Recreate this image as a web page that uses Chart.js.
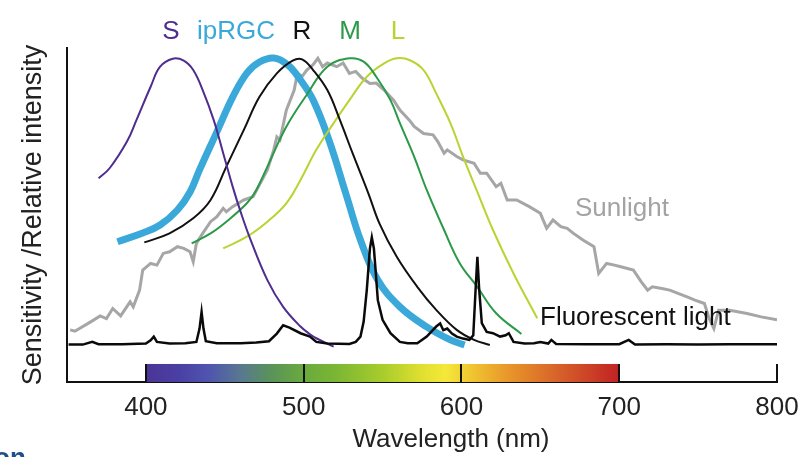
<!DOCTYPE html>
<html>
<head>
<meta charset="utf-8">
<script src="https://cdn.jsdelivr.net/npm/chart.js@4.4.1/dist/chart.umd.min.js"></script>
<style>
  body { margin: 0; background: #fff; }
  canvas { display: block; }
</style>
</head>
<body>
<canvas id="spectra-chart" width="809" height="457"></canvas>
<script>
const spectraChart = document.querySelector("#spectra-chart");

const xTicks = [400, 500, 600, 700, 800];

// receptor sensitivity curves, wavelength (nm) and relative value
const sWave = [370, 377, 388, 394, 403, 409, 417, 424, 430, 436, 443, 449, 455, 460, 466, 477, 487, 498, 504, 508, 519];
const sValues = [61, 64, 72, 78.4, 88.4, 94.4, 96.8, 96.2, 93.4, 87.4, 78.4, 68.5, 58.5, 51, 43, 30.5, 22.5, 16.6, 14.3, 13.1, 10.6];

const ipWave = [382, 398, 409, 420, 428, 434, 445, 455, 464, 472, 481, 490, 498, 506, 516, 527, 536, 547, 561, 578, 593, 602];
const ipValues = [42, 44.6, 47, 51.5, 56.9, 63.5, 74.9, 85.3, 92.5, 95.8, 97, 94.9, 90.4, 84.4, 72.5, 56, 42.5, 30.5, 22.5, 16.5, 12.6, 11.1];

const rWave = [399, 415, 430, 441, 451, 462, 472, 483, 493, 499, 506, 515, 523, 531, 541, 548, 559, 572, 584, 597, 608, 618];
const rValues = [41.8, 44.5, 49, 54.5, 64.5, 75.4, 85.4, 92.4, 96.2, 96.6, 93.4, 87.4, 78.4, 68.5, 56.5, 47.5, 37.5, 28.5, 21.6, 15.6, 12.6, 11.1];

const mWave = [429, 441, 451, 464, 470, 477, 489, 502, 515, 529, 538, 546, 555, 561, 570, 578, 589, 599, 610, 622, 638];
const mValues = [41.5, 44.5, 48, 53.5, 57.5, 64.5, 76.4, 86, 94.4, 96.9, 95.9, 91.4, 84.4, 77.5, 67.5, 57.5, 45.5, 35.5, 28.5, 20.6, 14.4];

const lWave = [449, 464, 477, 489, 498, 508, 519, 529, 540, 551, 559, 567, 576, 584, 593, 601, 610, 620, 633, 648];
const lValues = [40, 43.5, 48, 53.5, 60.5, 69.5, 77.5, 84.4, 91.4, 95.4, 96.9, 96.4, 93.4, 86.4, 77.5, 67.5, 57, 45.5, 32.5, 19.1];

// light sources
const sunWave = [352, 355, 365, 371, 375, 379, 384, 390, 392, 396, 398, 403, 407, 411, 415, 420, 424, 428, 430, 432, 436, 441, 445, 449, 451, 455, 462, 468, 477, 481, 483, 485, 489, 494, 496, 499, 502, 506, 509, 512, 515, 521, 525, 529, 533, 537, 542, 546, 551, 557, 561, 567, 570, 576, 582, 585, 589, 591, 597, 601, 608, 612, 616, 622, 625, 629, 635, 643, 650, 654, 658, 663, 667, 671, 677, 684, 687, 692, 697, 701, 709, 714, 718, 721, 727, 732, 743, 748, 754, 757, 760, 763, 770, 781, 790, 800];
const sunValues = [15.6, 15.2, 18, 19.8, 19, 22, 19.8, 24, 22.5, 27.5, 33.5, 35.5, 35, 38.5, 39, 40.5, 40, 39, 36, 41.5, 44.5, 48, 49.5, 52, 51, 52.5, 54.5, 55.5, 63.5, 69.5, 73.4, 72.5, 81.4, 87.4, 92.4, 91.5, 93.4, 95, 96.9, 94.4, 95.5, 94.4, 95.5, 92.4, 93, 91, 89.4, 89.5, 87.4, 84.4, 81.4, 78.4, 76.5, 74.4, 74, 72, 68.5, 69.5, 67.5, 66.5, 65.5, 62.5, 62.5, 58.5, 59.5, 54.5, 54.5, 52.5, 50.5, 46, 48.5, 46.5, 46, 44.5, 42.5, 40.5, 32.5, 35.5, 35, 34.5, 33.5, 30, 27.5, 28.5, 28, 27.5, 25.5, 24.5, 23.5, 19, 16, 21.5, 21.5, 20.5, 19.5, 18.6];

const fluoWave = [351, 360, 366, 370, 385, 400, 403, 405, 407, 415, 425, 432, 434, 435.3, 436.5, 438, 445, 460, 470, 478, 483, 487, 491, 498, 504, 508, 515, 529, 533, 536, 538, 540, 542, 543.2, 544.5, 545.5, 547, 550, 555, 561, 566, 572, 578, 584, 586.5, 588.5, 591, 594, 597, 601, 605, 607.5, 609, 610.1, 611.2, 612.9, 616, 620, 624.5, 628, 630, 633, 640, 646, 650, 655, 657, 660, 680, 700, 706, 710, 730, 750, 770, 800];
const fluoValues = [11.2, 11.2, 12, 11.3, 11.3, 11.5, 12.5, 13.6, 12, 11.5, 11.6, 12, 16, 21, 16, 12.2, 11.6, 11.6, 11.8, 12.2, 14.5, 17, 16.3, 14.6, 13.6, 12, 11.5, 11.4, 12, 13.6, 18, 27.5, 40, 43.3, 40, 34, 24.5, 18.6, 14.6, 12, 11.6, 11.6, 13.6, 16.6, 17.5, 15.5, 16, 14.5, 13.6, 13, 12.6, 14, 28, 37.5, 28, 17.6, 15, 14.6, 13.6, 14, 14.6, 12, 11.5, 11.6, 12, 11.5, 12.6, 11.4, 11.3, 11.3, 12.6, 11.2, 11.3, 11.2, 11.3, 11.3];

// visible spectrum strip
const barWave = [400, 420, 440, 460, 480, 500, 520, 550, 575, 590, 605, 630, 660, 700];
const barColors = ["#4b3596", "#4a3fa3", "#4f55ae", "#587890", "#5a9458", "#6aaa3e", "#7ab634", "#a8cc2c", "#e0e030", "#f5e83a", "#f0c830", "#e8962a", "#d8642a", "#c02224"];
const barTop = 5.4;

const curveNames = ["S", "ipRGC", "R", "M", "L"];
const curveColors = ["#4e2d8e", "#3aa9d9", "#111111", "#2b9a48", "#b8d430"];

Chart.defaults.font.family = '"Liberation Sans", Arial, Helvetica, sans-serif';

const toPoints = (wave, values) => wave.map((w, i) => ({ x: w, y: values[i] }));

const curve = (wave, values, color, width, tension) => ({
  data: toPoints(wave, values),
  borderColor: color,
  borderWidth: width,
  pointRadius: 0,
  fill: false,
  tension: tension,
});

const spectrumDecor = {
  id: "spectrumDecor",
  beforeDatasetsDraw(chart) {
    const { ctx, scales: { x, y } } = chart;
    const left = x.getPixelForValue(barWave[0]);
    const right = x.getPixelForValue(barWave[barWave.length - 1]);
    const top = y.getPixelForValue(barTop);
    const bottom = y.getPixelForValue(0);
    const grad = ctx.createLinearGradient(left, 0, right, 0);
    barWave.forEach((w, i) => {
      grad.addColorStop((w - barWave[0]) / (barWave[barWave.length - 1] - barWave[0]), barColors[i]);
    });
    ctx.save();
    ctx.fillStyle = grad;
    ctx.fillRect(left, top, right - left, bottom - top);
    // tick marks point up into the plot
    ctx.strokeStyle = "#111";
    ctx.lineWidth = 2;
    xTicks.forEach((t) => {
      const px = Math.round(x.getPixelForValue(t));
      ctx.beginPath();
      ctx.moveTo(px, top);
      ctx.lineTo(px, bottom);
      ctx.stroke();
    });
    ctx.restore();
  },
  afterDraw(chart) {
    const { ctx } = chart;
    ctx.save();
    ctx.textBaseline = "middle";
    ctx.textAlign = "center";
    ctx.font = '26px "Liberation Sans", Arial, sans-serif';
    const labelX = [171, 236, 302, 350, 398];
    curveNames.forEach((name, i) => {
      ctx.fillStyle = curveColors[i];
      ctx.fillText(name, labelX[i], 32);
    });
    ctx.fillStyle = "#222";
    ctx.fillText("Wavelength (nm)", 451, 440);
    ctx.textAlign = "left";
    ctx.fillStyle = "#a3a3a3";
    ctx.fillText("Sunlight", 575, 209);
    ctx.fillStyle = "#111";
    ctx.fillText("Fluorescent light", 540, 318);
    ctx.font = 'bold 26px "Liberation Sans", Arial, sans-serif';
    ctx.fillStyle = "#1f4f8a";
    ctx.textBaseline = "alphabetic";
    ctx.fillText("on", -6, 466);
    ctx.restore();
  },
};

new Chart(spectraChart, {
  type: "line",
  data: {
    datasets: [
      curve(fluoWave, fluoValues, "#0a0a0a", 2.5, 0),
      curve(sWave, sValues, curveColors[0], 2, 0.4),
      curve(rWave, rValues, curveColors[2], 2, 0.4),
      curve(mWave, mValues, curveColors[3], 2, 0.4),
      curve(lWave, lValues, curveColors[4], 2, 0.4),
      curve(ipWave, ipValues, curveColors[1], 7, 0.4),
      curve(sunWave, sunValues, "#a6a6a6", 3, 0),
    ],
  },
  options: {
    responsive: false,
    animation: false,
    events: [],
    layout: { padding: { top: 48, right: 32, left: 0, bottom: 0 } },
    plugins: { legend: { display: false }, tooltip: { enabled: false } },
    scales: {
      x: {
        type: "linear",
        min: 350,
        max: 800,
        afterBuildTicks: (scale) => {
          scale.ticks = xTicks.map((v) => ({ value: v }));
        },
        afterFit: (scale) => {
          scale.height = 75;
        },
        grid: { display: false, drawTicks: false },
        border: { display: true, color: "#111", width: 2 },
        ticks: { color: "#222", padding: 10, maxRotation: 0, autoSkip: false, font: { size: 26 } },
      },
      y: {
        min: 0,
        max: 100,
        afterFit: (scale) => {
          scale.width = 67;
        },
        grid: { display: false, drawTicks: false },
        border: { display: true, color: "#111", width: 2 },
        ticks: { display: false },
        title: {
          display: true,
          text: "Sensitivity /Relative intensity",
          color: "#222",
          font: { size: 27 },
          padding: { top: 17, bottom: 0 },
        },
      },
    },
  },
  plugins: [spectrumDecor],
});
</script>
</body>
</html>
